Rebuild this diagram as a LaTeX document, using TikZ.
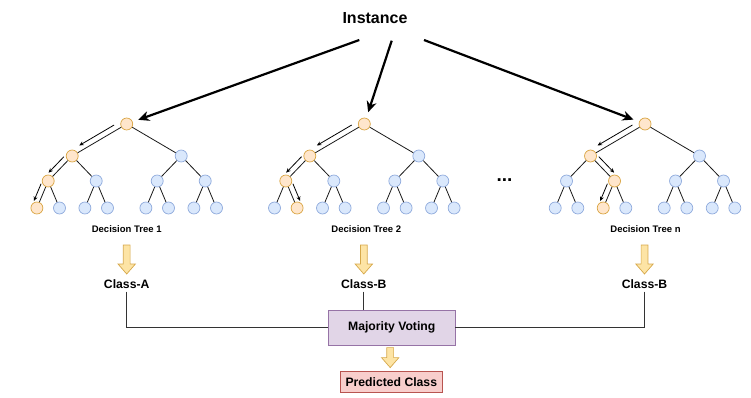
\documentclass[tikz,border=0pt]{standalone}
\usepackage{fontspec}
\setmainfont{Liberation Sans}
\usetikzlibrary{calc,arrows.meta}

\definecolor{hotfill}{HTML}{FFE6CC}
\definecolor{hotline}{HTML}{D9A441}
\definecolor{coolfill}{HTML}{DAE8FC}
\definecolor{coolline}{HTML}{8FAADC}
\definecolor{blockfill}{HTML}{FDE4A5}
\definecolor{blockline}{HTML}{D6A84A}
\definecolor{votefill}{HTML}{E1D5E7}
\definecolor{voteline}{HTML}{9673A6}
\definecolor{predfill}{HTML}{F8CECC}
\definecolor{predline}{HTML}{B85450}

\tikzset{
  tnode/.style={circle, minimum size=12pt, inner sep=0pt, line width=0.7pt},
  cool/.style={tnode, fill=coolfill, draw=coolline},
  hot/.style={tnode, fill=hotfill, draw=hotline},
  % default look of every tree position (overridden per tree for the decision path)
  tn r/.style={hot},
  tn L/.style={cool}, tn R/.style={cool},
  tn LL/.style={cool}, tn LR/.style={cool}, tn RL/.style={cool}, tn RR/.style={cool},
  tn LLL/.style={cool}, tn LLR/.style={cool}, tn LRL/.style={cool}, tn LRR/.style={cool},
  tn RLL/.style={cool}, tn RLR/.style={cool}, tn RRL/.style={cool}, tn RRR/.style={cool},
  branch/.style={draw=black!90, line width=0.8pt},
  guide/.style={-{Stealth[length=4.5pt,width=4pt]}, line width=0.8pt, black},
  feed/.style={-{Stealth[length=11pt,width=10pt]}, line width=2.2pt, shorten >=6pt},
  treelabel/.style={font=\bfseries\fontsize{9.5}{11}\selectfont, inner sep=1pt},
  cls/.style={font=\bfseries\fontsize{12.2}{14}\selectfont, inner sep=3pt},
  wire/.style={draw=black!80, line width=0.7pt},
  boxtext/.style={font=\bfseries\fontsize{12.2}{14}\selectfont, inner sep=0pt},
  vote/.style={boxtext, fill=votefill, draw=voteline, line width=0.7pt,
    minimum width=126.7pt, minimum height=34.3pt},
  pred/.style={boxtext, fill=predfill, draw=predline, line width=0.7pt,
    minimum width=102.7pt, minimum height=21.7pt},
  blockarrow/.style={fill=blockfill, draw=blockline, line width=0.7pt, line join=miter},
  pics/blockdown/.style={code={
    \draw[blockarrow] (-3.4,0) -- (3.4,0) -- (3.4,#1-10) -- (8.7,#1-10)
      -- (0,#1) -- (-8.7,#1-10) -- (-3.4,#1-10) -- cycle;}},
}

% one full binary tree of depth 3, root at x = 0
\newcommand\treebody{%
  \node[tn r]   (r)   at (0,124)     {};
  \node[tn L]   (L)   at (-54.5,156) {};
  \node[tn R]   (R)   at (54.5,156)  {};
  \node[tn LL]  (LL)  at (-78.5,181) {};
  \node[tn LR]  (LR)  at (-30.5,181) {};
  \node[tn RL]  (RL)  at (30.5,181)  {};
  \node[tn RR]  (RR)  at (78.5,181)  {};
  \node[tn LLL] (LLL) at (-89.8,208) {};
  \node[tn LLR] (LLR) at (-67.2,208) {};
  \node[tn LRL] (LRL) at (-41.8,208) {};
  \node[tn LRR] (LRR) at (-19.2,208) {};
  \node[tn RLL] (RLL) at (19.2,208)  {};
  \node[tn RLR] (RLR) at (41.8,208)  {};
  \node[tn RRL] (RRL) at (67.2,208)  {};
  \node[tn RRR] (RRR) at (89.8,208)  {};
  \foreach \p/\c in {r/L, r/R, L/LL, L/LR, R/RL, R/RR, LL/LLL, LL/LLR,
                     LR/LRL, LR/LRR, RL/RLL, RL/RLR, RR/RRL, RR/RRR}
    \draw[branch] (\p) -- (\c);
}

% small arrow running alongside a branch; #3 = side (+90 / -90)
\newcommand\guide[3]{%
  \draw[guide] ($(#1)!0.18!(#2)!5.5pt!#3:(#2)$) -- ($(#1)!0.82!(#2)!5.5pt!#3:(#2)$);
}

\begin{document}
\begin{tikzpicture}[x=1pt, y=-1pt]
  \useasboundingbox (0,0) rectangle (751,398);

  \node[font=\bfseries\fontsize{16}{19}\selectfont, inner sep=1pt] (inst) at (375,18) {Instance};
  \coordinate (s1) at (359.3,40);
  \coordinate (s2) at (391.7,40.7);
  \coordinate (s3) at (424,40);

  % tree 1
  \begin{scope}[shift={(126.7,0)}, name prefix=t1-,
      tn L/.style={hot}, tn LL/.style={hot}, tn LLL/.style={hot}]
    \treebody
    \guide{r}{L}{-90}
    \guide{L}{LL}{-90}
    \guide{LL}{LLL}{-90}
    \node[treelabel] (lbl) at (0,229) {Decision Tree 1};
    \pic at (0,245) {blockdown=29};
    \node[cls] (cls) at (0,284) {Class-A};
  \end{scope}

  % tree 2
  \begin{scope}[shift={(364.3,0)}, name prefix=t2-,
      tn L/.style={hot}, tn LL/.style={hot}, tn LLR/.style={hot}]
    \treebody
    \guide{r}{L}{-90}
    \guide{L}{LL}{-90}
    \guide{LL}{LLR}{90}
    \node[treelabel] (lbl) at (2,229) {Decision Tree 2};
    \pic at (-0.5,245) {blockdown=29};
    \node[cls] (cls) at (-0.5,284) {Class-B};
  \end{scope}

  % tree n
  \begin{scope}[shift={(645,0)}, name prefix=t3-,
      tn L/.style={hot}, tn LR/.style={hot}, tn LRL/.style={hot}]
    \treebody
    \guide{r}{L}{-90}
    \guide{L}{LR}{90}
    \guide{LR}{LRL}{-90}
    \node[treelabel] (lbl) at (0.5,229) {Decision Tree n};
    \pic at (-0.5,245) {blockdown=29};
    \node[cls] (cls) at (-0.5,284) {Class-B};
  \end{scope}

  \node[anchor=base, font=\bfseries\fontsize{19}{22}\selectfont, inner sep=0pt] (dots) at (504.5,182) {...};

  \draw[feed] (s1) -- (t1-r);
  \draw[feed] (s2) -- (t2-r);
  \draw[feed] (s3) -- (t3-r);

  % voting
  \node[vote] (mv) at (391.7,327.8) {Majority Voting};
  \node[pred] (pc) at (391.3,381.8) {Predicted Class};
  \draw[wire] (t1-cls.south) |- (mv.west);
  \draw[wire] (t2-cls.south) -- (t2-cls.south |- mv.north);
  \draw[wire] (t3-cls.south) |- (mv.east);
  \pic at ($(mv.south)+(-1.5,2.3)$) {blockdown=20};
\end{tikzpicture}
\end{document}
